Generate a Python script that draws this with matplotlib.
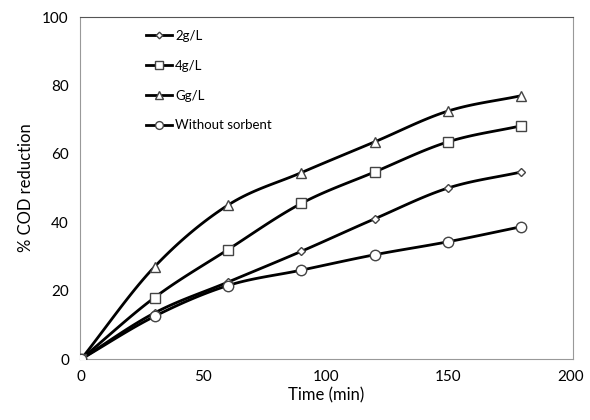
import matplotlib.pyplot as plt
import numpy as np

plt.rcParams['font.family'] = ['Lato', 'DejaVu Sans']

# Datos
tiempo = [0, 30, 60, 90, 120, 150, 180]
dosis_2 = [0, 13.5, 22.5, 31.5, 41, 50, 54.7]
dosis_4 = [0, 18, 32, 45.5, 54.7, 63.5, 68.2]
dosis_g = [0, 27, 45, 54.5, 63.5, 72.5, 77]
sin_sorbente = [0, 12.5, 21.5, 26, 30.5, 34.3, 38.7]
etiquetas = ['2g/L', '4g/L', 'Gg/L', 'Without sorbent']
marcadores = ['D', 's', '^', 'o']
tam_marcador = [4.5, 7.5, 7, 7.5]


def suavizar(x, y, n=20):
    # curva tipo Excel (Catmull-Rom) solo para el trazo
    x = np.asarray(x, float)
    y = np.asarray(y, float)
    px = np.concatenate([[2 * x[0] - x[1]], x, [2 * x[-1] - x[-2]]])
    py = np.concatenate([[2 * y[0] - y[1]], y, [2 * y[-1] - y[-2]]])
    t = np.linspace(0, 1, n)
    xs, ys = [], []
    for i in range(1, len(px) - 2):
        for p, out in ((px, xs), (py, ys)):
            p0, p1, p2, p3 = p[i - 1], p[i], p[i + 1], p[i + 2]
            out.extend(0.5 * (2 * p1 + (-p0 + p2) * t
                              + (2 * p0 - 5 * p1 + 4 * p2 - p3) * t ** 2
                              + (-p0 + 3 * p1 - 3 * p2 + p3) * t ** 3))
    return xs, ys


fig = plt.figure(figsize=(5.9, 4.2), dpi=100)
ax = fig.add_axes([0.1356, 0.145, 0.835, 0.8145])

series = [dosis_2, dosis_4, dosis_g, sin_sorbente]
for serie, lab, m, ms in zip(series, etiquetas, marcadores, tam_marcador):
    xs, ys = suavizar(tiempo, serie)
    ax.plot(xs, ys, color='black', linewidth=2.0, zorder=2)
    ax.plot(tiempo, serie, linestyle='none', marker=m, markersize=ms,
            markerfacecolor='white', markeredgecolor='#444444',
            markeredgewidth=1.0, zorder=3)
    # entrada de leyenda
    ax.plot([], [], color='black', linewidth=2.0, marker=m, markersize=ms * 0.75,
            markerfacecolor='white', markeredgecolor='#444444', label=lab)

ax.set_xlim(-0.5, 201)
ax.set_ylim(0, 100)
ax.set_xticks(np.arange(0, 201, 50))
ax.set_yticks(np.arange(0, 101, 20))
ax.tick_params(axis='both', length=0, labelsize=11, pad=8)

for lado in ['left', 'right', 'bottom']:
    ax.spines[lado].set_color('#999999')
ax.spines['top'].set_color('#555555')

ax.set_xlabel('Time (min)', fontsize=12, labelpad=2)
ax.set_ylabel('% COD reduction', fontsize=12, labelpad=6)

ax.legend(loc='upper left', bbox_to_anchor=(0.11, 0.997), frameon=False,
          fontsize=9.5, labelspacing=1.35, handlelength=2.0, handletextpad=0.2)

plt.savefig('out.png', dpi=100)
